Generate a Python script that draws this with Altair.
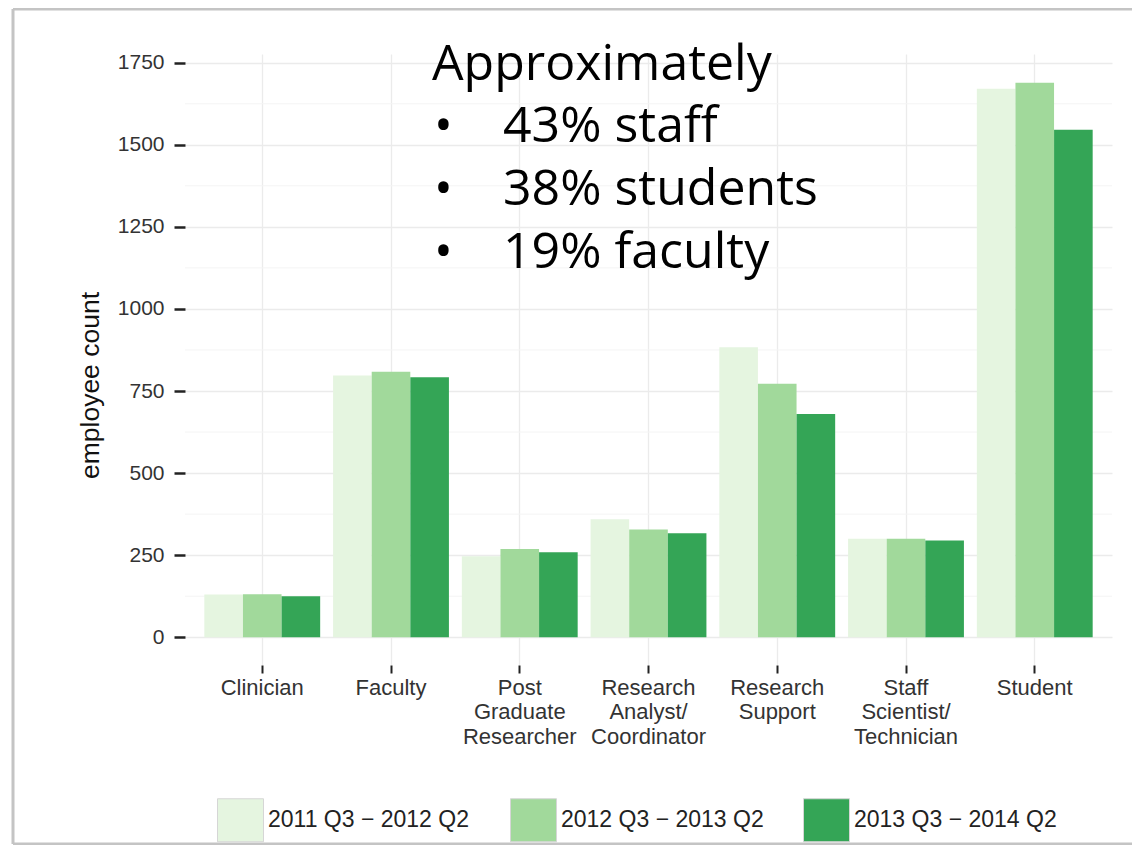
import altair as alt
import pandas as pd

# ---- data ----
categories = [
    "Clinician",
    "Faculty",
    "Post\nGraduate\nResearcher",
    "Research\nAnalyst/\nCoordinator",
    "Research\nSupport",
    "Staff\nScientist/\nTechnician",
    "Student",
]
periods = ["2011 Q3 \u2212 2012 Q2", "2012 Q3 \u2212 2013 Q2", "2013 Q3 \u2212 2014 Q2"]
counts_2011_12 = [130, 797, 247, 359, 883, 300, 1671]
counts_2012_13 = [131, 809, 269, 328, 772, 300, 1689]
counts_2013_14 = [125, 792, 259, 317, 680, 295, 1546]
period_colors = ["#e5f5e0", "#a1d99b", "#34a556"]
y_tick_values = [0, 250, 500, 750, 1000, 1250, 1500, 1750]
y_minor_values = [125, 375, 625, 875, 1125, 1375, 1625]
y_domain = [-84.6, 1776.6]
annot_head = "Approximately"
annot_items = ["43% staff", "38% students", "19% faculty"]

rows = []
for p, series in zip(periods, [counts_2011_12, counts_2012_13, counts_2013_14]):
    for c, v in zip(categories, series):
        rows.append({"category": c, "period": p, "count": v})
df = pd.DataFrame(rows)

AX_FONT = "Liberation Sans, Arial, sans-serif"

x_scale = alt.Scale(domain=categories, paddingInner=0.1, paddingOuter=0.15)
y_scale = alt.Scale(domain=y_domain, nice=False, zero=False)

bars = alt.Chart(df).mark_bar(size=38.6).encode(
    x=alt.X(
        "category:N",
        scale=x_scale,
        sort=categories,
        axis=alt.Axis(
            title=None,
            labelAngle=0,
            labelExpr="split(datum.label, '\\n')",
            labelFont=AX_FONT,
            labelFontSize=22,
            labelColor="#333333",
            labelLineHeight=24.5,
            labelPadding=4,
            labelBaseline="top",
            tickSize=8,
            tickWidth=2,
            tickColor="#222222",
            domain=False,
            grid=True,
            gridColor="#ebebeb",
            gridWidth=1.3,
            bandPosition=0.5,
        ),
    ),
    xOffset=alt.XOffset("period:N", sort=periods, scale=alt.Scale(domain=periods, paddingInner=0, paddingOuter=0)),
    y=alt.Y(
        "count:Q",
        scale=y_scale,
        axis=alt.Axis(
            values=y_tick_values,
            format="d",
            title="employee count",
            titleFont=AX_FONT,
            titleFontSize=26.5,
            titleFontWeight="normal",
            titleColor="#111111",
            titleAngle=270,
            titleX=-95,
            titleY=331,
            titleAlign="center",
            titleBaseline="middle",
            labelFont=AX_FONT,
            labelFontSize=21,
            labelColor="#333333",
            labelPadding=10,
            tickSize=11,
            tickWidth=2.5,
            tickColor="#222222",
            domain=False,
            grid=True,
            gridColor="#ebebeb",
            gridWidth=1.3,
        ),
    ),
    color=alt.Color(
        "period:N",
        sort=periods,
        scale=alt.Scale(domain=periods, range=period_colors),
        legend=alt.Legend(
            title=None,
            orient="none",
            legendX=33.5,
            legendY=744,
            direction="horizontal",
            columns=3,
            gridAlign="all",
            columnPadding=36,
            symbolType="M-1.07,-1H1.07V1H-1.07Z",
            symbolSize=1849,
            symbolStrokeColor="#d6d6d6",
            symbolStrokeWidth=1,
            symbolOpacity=1,
            labelFont=AX_FONT,
            labelFontSize=23,
            labelColor="#222222",
            labelOffset=5.5,
            labelLimit=260,
        ),
    ),
)

minor_grid = alt.Chart(pd.DataFrame({"v": y_minor_values})).mark_rule(
    color="#f4f4f4", strokeWidth=1
).encode(y=alt.Y("v:Q", scale=y_scale))

# picture frame: left, top and bottom edges only (right edge is off-canvas)
frame_src = pd.DataFrame({"a": [0]})
frame_style = dict(color="#c4c4c4", strokeWidth=3, clip=False)
frame_top = alt.Chart(frame_src).mark_rule(**frame_style).encode(
    x=alt.value(-172), x2=alt.value(1200), y=alt.value(-45)
)
frame_bottom = alt.Chart(frame_src).mark_rule(**frame_style).encode(
    x=alt.value(-172), x2=alt.value(1200), y=alt.value(790)
)
frame_left = alt.Chart(frame_src).mark_rule(**frame_style).encode(
    x=alt.value(-172), y=alt.value(-45), y2=alt.value(790)
)

annot_font = "Open Sans"
annot_layers = [
    alt.Chart(pd.DataFrame({"t": [annot_head]})).mark_text(
        font=annot_font, fontSize=50, color="#000000", align="left", baseline="alphabetic"
    ).encode(x=alt.value(247), y=alt.value(26), text="t:N")
]
for i, item in enumerate(annot_items):
    annot_layers.append(
        alt.Chart(pd.DataFrame({"t": ["\u2022"]})).mark_text(
            font=annot_font, fontSize=50, color="#000000", align="left", baseline="alphabetic"
        ).encode(x=alt.value(249), y=alt.value(88 + 63 * i), text="t:N")
    )
    annot_layers.append(
        alt.Chart(pd.DataFrame({"t": [item]})).mark_text(
            font=annot_font, fontSize=50, color="#000000", align="left", baseline="alphabetic"
        ).encode(x=alt.value(318), y=alt.value(88 + 63 * i), text="t:N")
    )

chart = alt.layer(
    minor_grid, bars, frame_top, frame_bottom, frame_left, *annot_layers
).properties(
    width=927,
    height=611,
    autosize=alt.AutoSizeParams(type="none"),
    padding={"left": 177, "top": 46, "right": 20, "bottom": 180},
    background="white",
).configure_view(stroke=None)

chart.save("out.html", embed_options={"renderer": "svg", "actions": False})
